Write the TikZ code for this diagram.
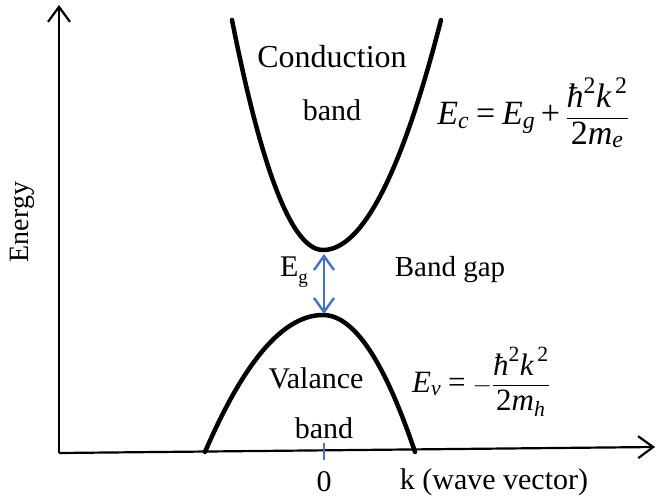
\documentclass[tikz,border=0pt]{standalone}
\usepackage{amsmath}
\usepackage{fontspec}
\setmainfont{Liberation Serif}
\usetikzlibrary{arrows.meta}
\definecolor{gapblue}{RGB}{68,114,196}
\newcommand{\vi}[1]{\text{\itshape #1}}
\newcommand{\vr}[1]{\text{#1}}
\tikzset{
  axis/.style={line width=2.2pt, -{Straight Barb[length=15pt,width=22pt,line width=2.2pt]}},
  band/.style={line width=4.5pt, line cap=round},
  gaparrow/.style={gapblue, line width=2.4pt, {Straight Barb[length=14pt,width=20pt,line width=2.4pt]}-{Straight Barb[length=14pt,width=20pt,line width=2.4pt]}},
  lbl/.style={font=\fontsize{30}{32}\selectfont, inner sep=0pt},
  eqn/.style={inner sep=0pt}
}
\begin{document}
\begin{tikzpicture}[x=1pt,y=-1pt]
\useasboundingbox (0,0) rectangle (656,497);
% axes
\coordinate (O) at (59,453);
\coordinate (ytop) at (59,5);
\coordinate (xend) at (655,447);
\draw[axis] (O) -- (ytop);
\draw[axis] (O) -- (xend);
% conduction band
\draw[band] plot[domain=1:0,samples=40,smooth] ({323-91*\x},{250-230*\x*\x})
  -- plot[domain=0:1,samples=40,smooth] ({323+118*\x},{250-230*\x*\x});
% valence band
\draw[band] plot[domain=1:0,samples=40,smooth] ({323-118*\x},{315+137*\x*\x})
  -- plot[domain=0:1,samples=40,smooth] ({323+92*\x},{315+137*\x*\x});
% gap arrow
\coordinate (cmin) at (324,254);
\coordinate (vmax) at (324,314);
\draw[gaparrow] (cmin) -- (vmax);
% tick
\coordinate (t1) at (324,443);
\coordinate (t2) at (324,460);
\draw[gapblue, line width=1.5pt] (t1) -- (t2);
% labels
\node[lbl, font=\fontsize{32}{34}\selectfont] (cond) at (332,57) {Conduction};
\node[lbl] (cband) at (332,110) {band};
\node[lbl] (val) at (316,378) {Valance};
\node[lbl] (vband) at (324,428) {band};
\node[lbl, font=\fontsize{29}{31}\selectfont] (gap) at (450,270) {Band gap};
\node[lbl] (eg) at (294,272) {E\raisebox{-0.25em}{\fontsize{19}{20}\selectfont g}};
\node[lbl] (zero) at (324,482) {0};
\node[lbl] (kv) at (494,482) {k (wave vector)};
\node[lbl, font=\fontsize{28}{30}\selectfont, rotate=90] (en) at (22,222) {Energy};
\node[eqn, font=\fontsize{34}{38}\selectfont] (ec) at (533,113) {$\displaystyle \vi{E}_{\vi{c}} \mathrel{\vr{=}} \vi{E}_{\vi{g}} \mathbin{\vr{+}} \frac{\vi{ħ}^{\vr{2}}\vi{k}^{\vr{\,2}}}{\vr{2}\vi{m}_{\vi{e}}}$};
\node[eqn, font=\fontsize{31}{36}\selectfont] (ev) at (481,382) {$\displaystyle \vi{E}_{\vi{v}} \mathrel{\vr{=}} -\frac{\vi{ħ}^{\vr{2}}\vi{k}^{\vr{\,2}}}{\vr{2}\vi{m}_{\vi{h}}}$};
\end{tikzpicture}
\end{document}
